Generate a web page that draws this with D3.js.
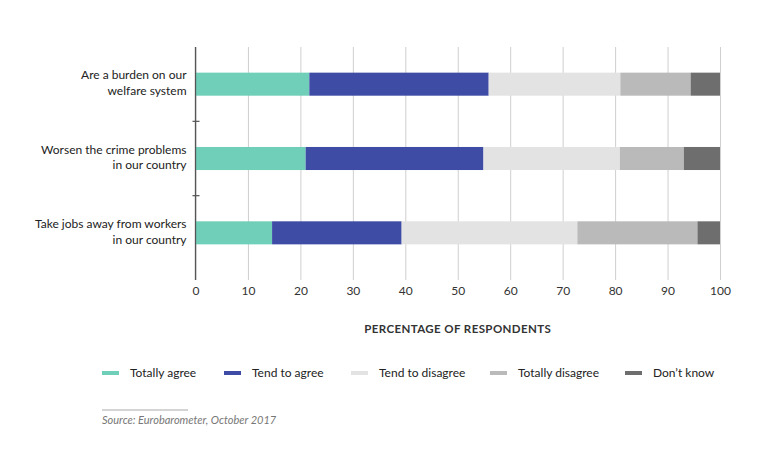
<!DOCTYPE html>
<html>
<head>
<meta charset="utf-8">
<script src="https://cdn.jsdelivr.net/npm/d3@7"></script>
<style>
  body { margin: 0; background: #fff; }
  text { font-family: Lato, "Open Sans", sans-serif; }
</style>
</head>
<body>
<div id="chart"></div>
<script>
// data
const categories = [
  ["Are a burden on our", "welfare system"],
  ["Worsen the crime problems", "in our country"],
  ["Take jobs away from workers", "in our country"]
];
const seriesNames = ["Totally agree", "Tend to agree", "Tend to disagree", "Totally disagree", "Don\u2019t know"];
const totallyAgree    = [21.7, 21.0, 14.6];
const tendToAgree     = [34.2, 33.9, 24.7];
const tendToDisagree  = [25.1, 26.0, 33.5];
const totallyDisagree = [13.4, 12.2, 22.9];
const dontKnow        = [5.6, 6.9, 4.3];
const xTicks = [0, 10, 20, 30, 40, 50, 60, 70, 80, 90, 100];
const colors = ["#6fcfb9", "#3f4ca6", "#e3e3e3", "#bababa", "#6e6e6e"];

const W = 761, H = 466;
const margin = { top: 47, left: 195.5, right: 41, bottom: 196 };
const width = W - margin.left - margin.right;
const height = H - margin.top - margin.bottom;

const svg = d3.select("#chart").append("svg")
    .attr("width", W).attr("height", H);
const g = svg.append("g").attr("transform", `translate(${margin.left},${margin.top})`);

const keys = categories.map((c, i) => "c" + i);
const rows = keys.map((k, i) => ({
  key: k,
  vals: [totallyAgree[i], tendToAgree[i], tendToDisagree[i], totallyDisagree[i], dontKnow[i]]
}));
const stack = d3.stack().keys(d3.range(5)).value((d, j) => d.vals[j]);
const series = stack(rows);

const x = d3.scaleLinear().domain([0, 100]).range([0, width]);
const y = d3.scaleBand().domain(keys).range([0, height]).paddingInner(0.69).paddingOuter(0.345);

// vertical gridlines
const xAxis = g.append("g")
    .attr("transform", `translate(0,${height + 10})`)
    .call(d3.axisBottom(x).tickValues(xTicks).tickSize(-(height + 10)).tickSizeOuter(0).tickPadding(8));
xAxis.select(".domain").remove();
xAxis.selectAll(".tick line").attr("stroke", "#cfcfcf").attr("stroke-width", 1);
xAxis.selectAll(".tick text").attr("fill", "#333").style("font-size", "12px").attr("dy", "0.55em");

// bars
g.selectAll("g.series").data(series).join("g")
    .attr("fill", (d, i) => colors[i])
  .selectAll("rect").data(d => d).join("rect")
    .attr("x", d => x(d[0]))
    .attr("width", d => x(d[1]) - x(d[0]))
    .attr("y", d => y(d.data.key))
    .attr("height", y.bandwidth());

// left axis line + separators
g.append("line").attr("x1", 0).attr("x2", 0).attr("y1", 0).attr("y2", height + 10)
    .attr("stroke", "#555").attr("stroke-width", 1.3);
keys.slice(1).forEach(k => {
  const yy = y(k) - y.step() * y.paddingInner() / 2;
  g.append("line").attr("x1", -3).attr("x2", 4).attr("y1", yy).attr("y2", yy)
      .attr("stroke", "#555").attr("stroke-width", 1.2);
});

// category labels
keys.forEach((k, i) => {
  const cy = y(k) + y.bandwidth() / 2;
  const t = g.append("text").attr("x", -9).attr("y", cy - 6)
      .attr("text-anchor", "end").attr("fill", "#222").style("font-size", "12px");
  categories[i].forEach((line, j) => {
    t.append("tspan").attr("x", -9).attr("dy", j === 0 ? "0.1em" : "1.3em").text(line);
  });
});

// axis title
svg.append("text")
    .attr("x", margin.left + width / 2).attr("y", 333)
    .attr("text-anchor", "middle").attr("fill", "#333")
    .style("font-size", "11.5px").style("font-weight", "bold").style("letter-spacing", "0.4px")
    .text("PERCENTAGE OF RESPONDENTS");

// legend
const legendX = [102, 224, 351, 490, 625];
const legend = svg.append("g");
seriesNames.forEach((name, i) => {
  legend.append("rect").attr("x", legendX[i]).attr("y", 371).attr("width", 17).attr("height", 4)
      .attr("fill", colors[i]);
  legend.append("text").attr("x", legendX[i] + 28).attr("y", 377)
      .attr("fill", "#222").style("font-size", "12px").text(name);
});

// source
svg.append("line").attr("x1", 102).attr("x2", 188).attr("y1", 410).attr("y2", 410)
    .attr("stroke", "#aaa").attr("stroke-width", 1);
svg.append("text").attr("x", 102).attr("y", 424)
    .attr("fill", "#777").style("font-size", "11px").style("font-style", "italic")
    .text("Source: Eurobarometer, October 2017");
</script>
</body>
</html>
